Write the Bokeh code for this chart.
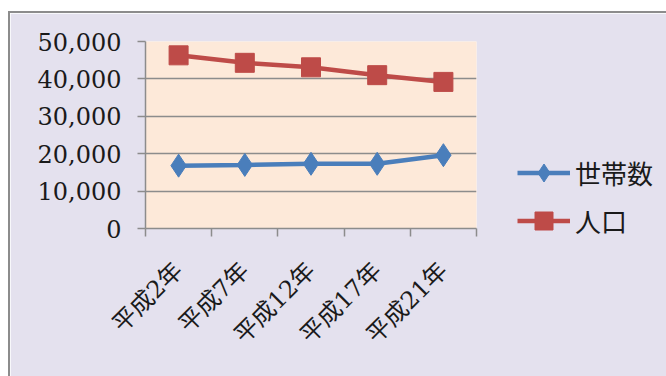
from bokeh.plotting import figure
from bokeh.models import (FixedTicker, NumeralTickFormatter, Legend, LegendItem,
                          Range1d, ColumnDataSource)
from bokeh.embed import file_html
from bokeh.resources import INLINE
import math

# Survey years and values
categories = ["平成2年", "平成7年", "平成12年", "平成17年", "平成21年"]
households = [16800, 17000, 17300, 17300, 19600]   # 世帯数
population = [46300, 44300, 43100, 41000, 39200]   # 人口
y_ticks = [0, 10000, 20000, 30000, 40000, 50000]

# Each category occupies one unit; points sit in the middle of their slot
xs = [i + 0.5 for i in range(len(categories))]
bounds = list(range(len(categories) + 1))

src = ColumnDataSource(data=dict(x=xs, hh=households, pop=population))

BG = "#e4e1ee"
PLOT_BG = "#fde9d9"
GRAY = "#8c8c8c"
BLUE = "#4a7ebb"
RED = "#be4b48"
SERIF = "'DejaVu Serif', 'Noto Sans CJK JP'"
CJK = "'Noto Sans CJK JP'"

p = figure(frame_width=331, frame_height=187, output_backend="svg", toolbar_location=None,
           x_range=Range1d(0, len(categories)), y_range=Range1d(0, 50000),
           min_border_left=135, min_border_right=190,
           min_border_top=28, min_border_bottom=148,
           background_fill_color=PLOT_BG, border_fill_color=BG,
           outline_line_color=None)
p.margin = (11, 0, 0, 8)
p.styles = {"border-left": f"2px solid {GRAY}", "border-top": f"2px solid {GRAY}"}

# Horizontal gridlines only
p.xgrid.visible = False
p.ygrid.grid_line_color = GRAY
p.ygrid.grid_line_width = 1.5

# Value axis
yax = p.yaxis[0]
yax.ticker = FixedTicker(ticks=y_ticks)
yax.formatter = NumeralTickFormatter(format="0,0")
yax.axis_line_color = GRAY
yax.axis_line_width = 1.5
yax.major_tick_line_color = GRAY
yax.major_tick_line_width = 1.5
yax.major_tick_out = 8
yax.major_tick_in = 0
yax.minor_tick_line_color = None
yax.major_label_standoff = 16
yax.major_label_text_font = SERIF
yax.major_label_text_font_size = "24px"
yax.major_label_text_color = "#1a1a1a"

# Category axis: labels at slot centres, short marks at slot boundaries
xax = p.xaxis[0]
xax.ticker = FixedTicker(ticks=xs, minor_ticks=bounds)
xax.major_label_overrides = {x: c for x, c in zip(xs, categories)}
xax.axis_line_color = GRAY
xax.axis_line_width = 1.5
xax.major_tick_line_color = None
xax.major_tick_out = 0
xax.major_tick_in = 0
xax.minor_tick_line_color = GRAY
xax.minor_tick_line_width = 1.5
xax.minor_tick_out = 8
xax.minor_tick_in = 0
xax.major_label_orientation = math.pi / 4
xax.major_label_standoff = 30
xax.major_label_text_font = SERIF
xax.major_label_text_font_size = "24px"
xax.major_label_text_color = "#1a1a1a"

# Series
hh_line = p.line("x", "hh", source=src, line_color=BLUE, line_width=4.5)
hh_mark = p.scatter("x", "hh", source=src, marker="diamond", size=23,
                    fill_color=BLUE, line_color=BLUE)
pop_line = p.line("x", "pop", source=src, line_color=RED, line_width=4.5)
pop_mark = p.scatter("x", "pop", source=src, marker="square", size=19,
                     fill_color=RED, line_color=RED)

# Legend sits in the right-hand panel, beside the plot area
legend = Legend(items=[LegendItem(label="世帯数", renderers=[hh_line, hh_mark]),
                       LegendItem(label="人口", renderers=[pop_line, pop_mark])],
                location=(41, -15), orientation="vertical",
                glyph_width=53, glyph_height=45, label_height=45,
                spacing=3, label_standoff=5, padding=0, margin=0,
                border_line_color=None, background_fill_alpha=0,
                label_text_font=CJK, label_text_font_size="26px",
                label_text_color="#1a1a1a")
p.add_layout(legend, "right")

open("out.html", "w").write(file_html(p, INLINE))
